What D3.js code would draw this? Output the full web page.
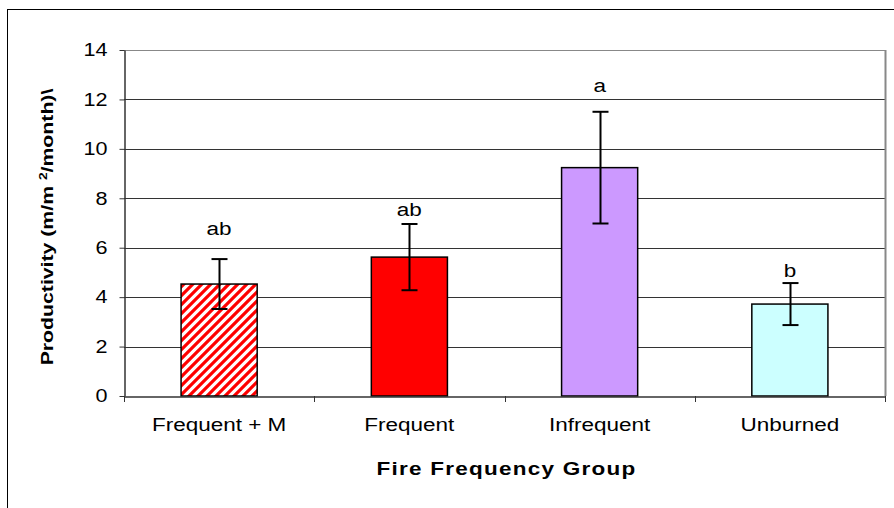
<!DOCTYPE html>
<html>
<head>
<meta charset="utf-8">
<script src="https://cdn.jsdelivr.net/npm/d3@7"></script>
<style>
  html, body { margin: 0; padding: 0; background: #fff; }
  svg { display: block; font-family: "Liberation Sans", Arial, sans-serif; }
</style>
</head>
<body>
<svg id="chart" width="894" height="508"></svg>
<script>
// Mean productivity by fire frequency group, with error bars and significance letters
const categories = ["Frequent + M", "Frequent", "Infrequent", "Unburned"];
const means      = [4.53, 5.62, 9.24, 3.72];
const errors     = [1.01, 1.34, 2.26, 0.85];
const letters    = ["ab", "ab", "a", "b"];
const letterAt   = [6.5, 7.3, 12.3, 4.8];
const yTicks     = [0, 2, 4, 6, 8, 10, 12, 14];
const fills      = ["url(#hatch)", "#FF0000", "#CC99FF", "#CCFFFF"];

const svg = d3.select("#chart");
const plot = { left: 124, right: 885, top: 50, bottom: 396 };
const WIDE = 1.25;   // wide lettering, stretched along the baseline

// stretch text horizontally while keeping its anchor point in place
function widen(sel, s) {
  sel.each(function () {
    const t = d3.select(this);
    const x0 = +t.attr("x") || 0;
    t.attr("x", x0 / s).attr("transform", `scale(${s},1)`);
  });
}

// hatch for the first bar
const defs = svg.append("defs");
const pat = defs.append("pattern")
  .attr("id", "hatch")
  .attr("patternUnits", "userSpaceOnUse")
  .attr("width", 9).attr("height", 9);
pat.append("rect").attr("width", 9).attr("height", 9).attr("fill", "#fff");
pat.append("path")
  .attr("d", "M-2,2 L2,-2 M0,9 L9,0 M7,11 L11,7")
  .attr("stroke", "#FF0000").attr("stroke-width", 3.2);

// outer frame
svg.append("rect")
  .attr("x", 7.5).attr("y", 9.5)
  .attr("width", 892).attr("height", 510)
  .attr("fill", "none").attr("stroke", "#000").attr("stroke-width", 1);

const x = d3.scaleBand()
  .domain(categories)
  .range([plot.left, plot.right])
  .paddingInner(0).paddingOuter(0);

const y = d3.scaleLinear().domain([0, 14]).range([plot.bottom, plot.top]);

// gridlines
svg.append("g").selectAll("line")
  .data(yTicks.filter(d => d > 0))
  .join("line")
  .attr("x1", plot.left).attr("x2", plot.right)
  .attr("y1", d => Math.round(y(d)) + 0.5).attr("y2", d => Math.round(y(d)) + 0.5)
  .attr("stroke", d => d === 14 ? "#888" : "#333").attr("stroke-width", 1);

// plot area right edge
svg.append("line")
  .attr("x1", plot.right + 0.5).attr("x2", plot.right + 0.5)
  .attr("y1", plot.top).attr("y2", plot.bottom)
  .attr("stroke", "#888").attr("stroke-width", 2);

// bars
const bw = x.bandwidth() * 0.4;
const cx = d => x(d) + x.bandwidth() / 2;
svg.append("g").selectAll("rect")
  .data(categories)
  .join("rect")
  .attr("x", d => cx(d) - bw / 2)
  .attr("y", (d, i) => y(means[i]))
  .attr("width", bw)
  .attr("height", (d, i) => y(0) - y(means[i]))
  .attr("fill", (d, i) => fills[i])
  .attr("stroke", "#000").attr("stroke-width", 1.5);

// error bars
const eb = svg.append("g").attr("stroke", "#000").attr("stroke-width", 2);
categories.forEach((c, i) => {
  const xc = Math.round(cx(c)) + 0.5;
  const hi = y(means[i] + errors[i]), lo = y(means[i] - errors[i]);
  eb.append("line").attr("x1", xc).attr("x2", xc).attr("y1", hi).attr("y2", lo);
  eb.append("line").attr("x1", xc - 8).attr("x2", xc + 8).attr("y1", hi).attr("y2", hi);
  eb.append("line").attr("x1", xc - 8).attr("x2", xc + 8).attr("y1", lo).attr("y2", lo);
});

// significance letters
svg.append("g").selectAll("g")
  .data(categories)
  .join("g")
  .attr("transform", (d, i) => `translate(${cx(d)},${y(letterAt[i])})`)
  .append("text")
  .attr("text-anchor", "middle")
  .attr("font-size", 18)
  .attr("fill", "#000")
  .text((d, i) => letters[i])
  .call(widen, WIDE);

// y axis
const yAxis = svg.append("g")
  .attr("transform", `translate(${plot.left + 0.5},0)`)
  .call(d3.axisLeft(y).tickValues(yTicks).tickSize(5).tickPadding(12).tickSizeOuter(0));
yAxis.select(".domain").attr("stroke", "#333").attr("stroke-width", 1.5);
yAxis.selectAll(".tick line").attr("stroke", "#333");
yAxis.selectAll(".tick text")
  .attr("font-size", 18).attr("fill", "#000")
  .attr("font-family", "'Liberation Sans', Arial, sans-serif")
  .call(widen, 1.2);

// x axis
const xAxis = svg.append("g")
  .attr("transform", `translate(0,${plot.bottom + 0.5})`)
  .call(d3.axisBottom(x).tickSize(0).tickPadding(22).tickSizeOuter(0));
xAxis.select(".domain").attr("stroke", "#333").attr("stroke-width", 1.5);
xAxis.selectAll(".tick text")
  .attr("font-size", 18).attr("fill", "#000")
  .attr("font-family", "'Liberation Sans', Arial, sans-serif")
  .call(widen, WIDE);
// category boundary ticks
svg.append("g").selectAll("line")
  .data(categories.concat([null]))
  .join("line")
  .attr("x1", d => d === null ? plot.right + 0.5 : Math.round(x(d)) + 0.5)
  .attr("x2", d => d === null ? plot.right + 0.5 : Math.round(x(d)) + 0.5)
  .attr("y1", plot.bottom).attr("y2", plot.bottom + 6)
  .attr("stroke", "#333").attr("stroke-width", 1);

// axis titles
svg.append("g")
  .attr("transform", `translate(${(plot.left + plot.right) / 2 + 2},475)`)
  .append("text")
  .attr("text-anchor", "middle")
  .attr("font-size", 18).attr("font-weight", "bold")
  .attr("letter-spacing", 1)
  .text("Fire Frequency Group")
  .call(widen, WIDE);

const yt = svg.append("g")
  .attr("transform", `translate(53,${(plot.top + plot.bottom) / 2 + 4}) rotate(-90)`)
  .append("text")
  .attr("text-anchor", "middle")
  .attr("font-size", 17).attr("font-weight", "bold")
  .attr("transform", `scale(${WIDE},1)`);
yt.append("tspan").text("Productivity (m/m ");
yt.append("tspan").attr("font-size", 11).attr("dy", -6).text("2");
yt.append("tspan").attr("dy", 6).text("/month)\\");
</script>
</body>
</html>
